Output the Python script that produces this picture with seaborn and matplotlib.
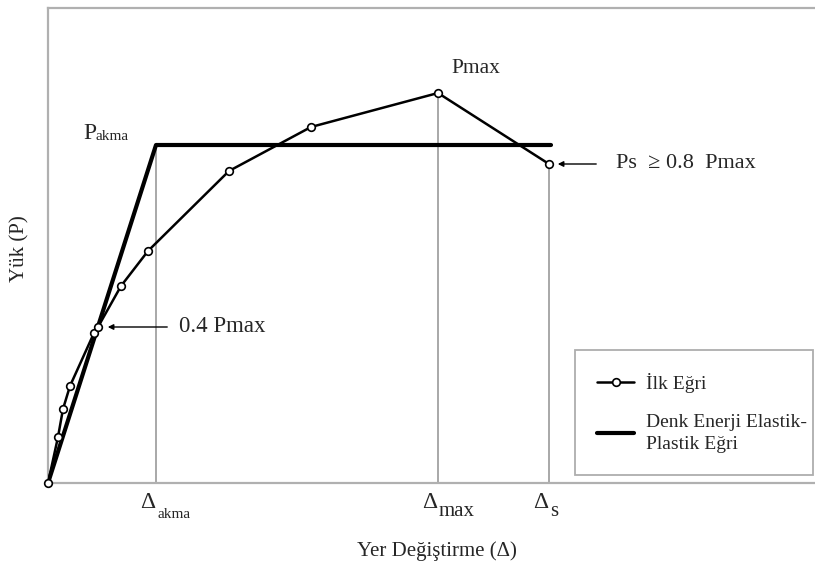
import matplotlib
matplotlib.use('Agg')
import matplotlib.pyplot as plt
import seaborn as sns

# Ilk egri (deneysel yuk - yer degistirme noktalari)
ilk_x = [0, 10, 15, 22, 46, 50, 73, 100, 181, 263, 390, 501]
ilk_y = [0, 46, 74, 97, 150, 156, 197, 232, 312, 356, 390, 319]

# Denk enerji elastik-plastik egri
ep_x = [0, 108, 503]
ep_y = [0, 338, 338]

# Karakteristik noktalar
d_akma, p_akma = 108, 338
d_max, p_max = 390, 390
d_s, p_s = 501, 319
p_04 = 156

sns.set_style('white')
plt.rcParams['font.family'] = ['Liberation Serif', 'DejaVu Serif']

fig = plt.figure(figsize=(8.15, 5.7), dpi=100)
ax = fig.add_axes([48/815, 87/570, 767/815, 475/570])

# dikey yardimci cizgiler
for dx, py in [(d_akma, p_akma), (d_max, p_max), (d_s, p_s)]:
    ax.plot([dx, dx], [0, py], color='#a8a8a8', lw=1.4, zorder=1)

sns.lineplot(x=ilk_x, y=ilk_y, ax=ax, sort=False, color='black', lw=1.8,
             marker='o', markersize=5.5, markerfacecolor='white',
             markeredgecolor='black', markeredgewidth=1.2,
             label='İlk Eğri', clip_on=False, zorder=4)
sns.lineplot(x=ep_x, y=ep_y, ax=ax, sort=False, color='black', lw=3,
             label='Denk Enerji Elastik-\nPlastik Eğri', zorder=3)

ax.set_xlim(0, 767)
ax.set_ylim(0, 475)
ax.set_xticks([])
ax.set_yticks([])
ax.set_xlabel('')
ax.set_ylabel('')
for s in ['left', 'top', 'bottom']:
    ax.spines[s].set_color('#b0b0b0')
    ax.spines[s].set_linewidth(1.6)
ax.spines['right'].set_visible(False)

# etiketler
ax.text(d_akma - 60, p_akma + 1, 'P', fontsize=17, ha='right', va='bottom')
ax.text(d_akma - 60, p_akma + 2, 'akma', fontsize=11, ha='left', va='bottom')

ax.text(d_max + 38, p_max + 15, 'Pmax', fontsize=15.5, ha='center', va='bottom')

ax.annotate('', xy=(d_s + 6, p_s), xytext=(d_s + 50, p_s),
            arrowprops=dict(arrowstyle='-|>', color='black', lw=1, mutation_scale=8))
ax.text(d_s + 67, p_s, 'Ps  ≥ 0.8  Pmax', fontsize=16, ha='left', va='center')

ax.annotate('', xy=(57, p_04), xytext=(122, p_04),
            arrowprops=dict(arrowstyle='-|>', color='black', lw=1, mutation_scale=8))
ax.text(131, p_04, '0.4 Pmax', fontsize=16.5, ha='left', va='center')

# x ekseni Delta etiketleri
for dx, sub, fs, dy in [(d_akma, 'akma', 11, -32), (d_max, 'max', 15, -29), (d_s, 's', 15, -29)]:
    ax.text(dx - 16, -20, 'Δ', fontsize=17, ha='left', va='center', clip_on=False)
    ax.text(dx + 1, dy, sub, fontsize=fs, ha='left', va='center', clip_on=False)

fig.text(437/815, 1 - 551/570, 'Yer Değiştirme (Δ)', fontsize=15, ha='center', va='center')
fig.text(20/815, 1 - 249/570, 'Yük (P)', fontsize=15, ha='center', va='center', rotation=90)

leg = ax.legend(loc='upper left', bbox_to_anchor=(575/815, 1 - 356/570, 238/815, 0.01),
                bbox_transform=fig.transFigure, mode='expand', fontsize=14, frameon=True,
                fancybox=False, edgecolor='#999999', handlelength=1.9,
                labelspacing=1.1, borderpad=1.15, borderaxespad=0, handletextpad=0.6)
leg.get_frame().set_linewidth(1.3)
leg.get_texts()[1].set_linespacing(1.35)

fig.savefig('out.png', dpi=100)
